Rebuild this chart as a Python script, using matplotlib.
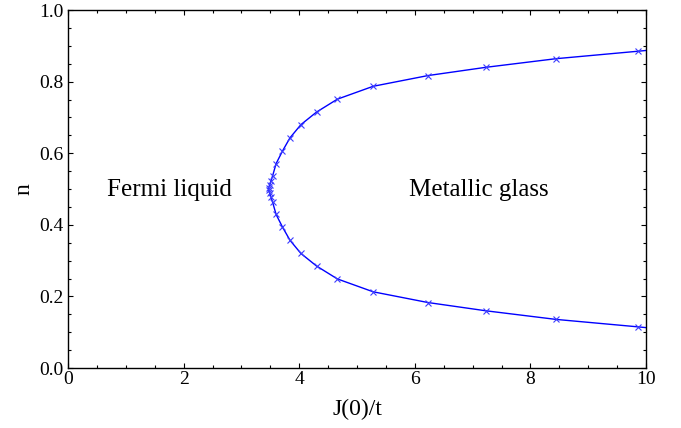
import matplotlib
matplotlib.use("Agg")
import matplotlib.pyplot as plt
from matplotlib.ticker import MultipleLocator

plt.rcParams["font.family"] = ["Liberation Serif", "DejaVu Serif"]
plt.rcParams["mathtext.fontset"] = "stix"

# 相图边界：J(0)/t 与 n
J_pts = [9.87, 8.44, 7.23, 6.23, 5.28, 4.66, 4.30, 4.03, 3.84, 3.71, 3.60,
         3.54, 3.51, 3.49, 3.47, 3.47, 3.49, 3.51, 3.54, 3.60, 3.71, 3.84,
         4.03, 4.30, 4.66, 5.28, 6.23, 7.23, 8.44, 9.87]
n_pts = [0.115, 0.136, 0.160, 0.183, 0.213, 0.249, 0.285, 0.320, 0.357, 0.394, 0.429,
         0.463, 0.478, 0.488, 0.496, 0.504, 0.512, 0.522, 0.537, 0.571, 0.606, 0.643,
         0.680, 0.715, 0.751, 0.787, 0.817, 0.840, 0.864, 0.885]
# 曲线两端延伸到 J=10
J_line = [10.0] + J_pts + [10.0]
n_line = [0.113] + n_pts + [0.887]

labels = ["Fermi liquid", "Metallic glass"]
label_pos = [(1.75, 0.48), (7.1, 0.48)]

fig = plt.figure(figsize=(6.81, 4.28), dpi=100)
ax = fig.add_axes([0.0999, 0.140, 0.8487, 0.8366])

ax.plot(J_line, n_line, "-", color="#0000ff", lw=1.0)
ax.plot(J_pts, n_pts, "x", color="#3c3cff", ms=5, mew=0.8, ls="none")

for txt, (xx, yy) in zip(labels, label_pos):
    ax.text(xx, yy, txt, fontsize=18, ha="center", va="baseline")

ax.set_xlim(0, 10)
ax.set_ylim(0, 1)
ax.xaxis.set_major_locator(MultipleLocator(2))
ax.xaxis.set_minor_locator(MultipleLocator(0.5))
ax.yaxis.set_major_locator(MultipleLocator(0.2))
ax.yaxis.set_minor_locator(MultipleLocator(0.05))
ax.yaxis.set_major_formatter(plt.FuncFormatter(lambda v, p: f"{v:.1f}"))
ax.tick_params(which="both", direction="in", top=True, right=True, labelsize=14)
ax.tick_params(which="major", length=3.6, width=0.8)
ax.tick_params(which="minor", length=2.2, width=0.8)
ax.tick_params(axis="x", pad=2)
ax.tick_params(axis="y", pad=3)
for s in ax.spines.values():
    s.set_linewidth(1.0)

ax.set_xlabel("J(0)/t", fontsize=17, labelpad=8)
ax.set_ylabel("n", fontsize=17, labelpad=4)

plt.savefig("out.png", dpi=100)
plt.close(fig)
